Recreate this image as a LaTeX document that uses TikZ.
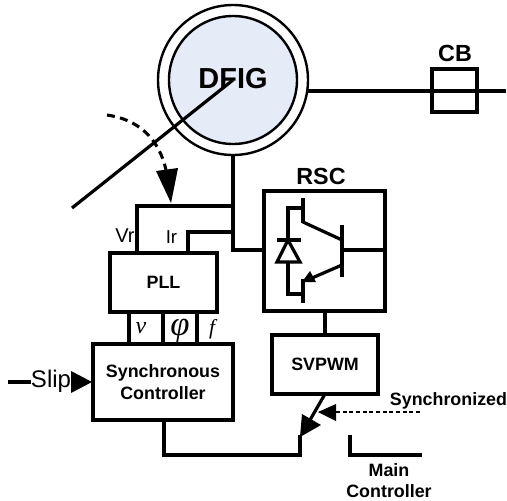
\documentclass[tikz,border=0pt]{standalone}
\usepackage{fontspec}
\setmainfont{Liberation Sans}
\newfontfamily\serifit[Script=Greek]{Liberation Serif}
\usetikzlibrary{arrows.meta}
\tikzset{
  x=0.75pt,y=-0.75pt,
  wire/.style={line width=2.4pt,line join=miter},
  block/.style={draw,line width=2.4pt,rectangle,inner sep=0pt,outer sep=0pt,align=center,font=\fontsize{13.4}{16.5}\selectfont\bfseries},
  ring/.style={circle,draw,line width=1.8pt,inner sep=0pt,outer sep=0pt},
  lbl/.style={inner sep=0pt,outer sep=0pt,align=center},
  boldlbl/.style={lbl,font=\fontsize{13.4}{16}\selectfont\bfseries},
}
\begin{document}
\begin{tikzpicture}
\useasboundingbox (0,0) rectangle (507,500);
% Generator
\node[ring,minimum size=150*0.75pt] (outer) at (233,80) {};
\node[ring,fill={rgb,255:red,230;green,236;blue,247},minimum size=128*0.75pt] (inner) at (233,80) {};
\node[lbl,font=\fontsize{21.7}{24}\selectfont\bfseries] (dfig) at (233,79) {DFIG};
\coordinate (hub) at (233,80);
\coordinate (shaftend) at (72,208);
\draw[wire] (hub) -- (shaftend);
% Breaker
\node[block,minimum width=45*0.75pt,minimum height=43*0.75pt] (cb) at (454.5,90.5) {};
\node[lbl,font=\fontsize{17.5}{20}\selectfont\bfseries] (cbt) at (455,53) {CB};
\coordinate (lineend) at (506,91);
\draw[wire] (308,91) -- (lineend);
% Dashed rotation arrow
\coordinate (rotstart) at (107,115);
\coordinate (rottip) at (171,203);
\draw[line width=2.3pt,dash pattern=on 6pt off 4pt] (rotstart) .. controls (135,119) and (158,135) .. (166,170);
\draw[draw=none,fill=black] (rottip) -- (156,171) -- (178,168) -- cycle;
% Blocks
\node[block,minimum width=121*0.75pt,minimum height=120*0.75pt] (rsc) at (324.5,251) {};
\node[lbl,font=\fontsize{17.5}{20}\selectfont\bfseries] (rsct) at (321,176) {RSC};
\node[block,minimum width=106*0.75pt,minimum height=59*0.75pt] (svpwm) at (325,364.5) {SVPWM};
\node[block,minimum width=107*0.75pt,minimum height=59*0.75pt] (pll) at (163.5,282.5) {PLL};
\node[block,minimum width=140*0.75pt,minimum height=76*0.75pt] (sync) at (163,382) {Synchronous\\Controller};
% Feeders
\coordinate (bus) at (233,250);
\coordinate (vrtop) at (137,206);
\coordinate (irtop) at (188,232);
\draw[wire] (233,155) -- (bus) -- (rsc.west |- bus);
\draw[wire] (233,206) -- (vrtop) -- (pll.north -| vrtop);
\draw[wire] (233,232) -- (irtop) -- (pll.north -| irtop);
\node[lbl,font=\fontsize{15}{17}\selectfont] (vr) at (125,236) {Vr};
\node[lbl,font=\fontsize{14}{16}\selectfont] (ir) at (171.5,237) {Ir};
% PLL to controller
\foreach \x in {129,163,197} \draw[wire] (\x,312) -- (\x,344);
\node[lbl,font=\fontsize{18}{20}\selectfont\serifit\itshape] (nu) at (141,328) {ν};
\node[lbl,font=\fontsize{26}{28}\selectfont\serifit\itshape] (phi) at (180,331) {φ};
\node[lbl,font=\fontsize{16}{18}\selectfont\serifit\itshape] (ff) at (212,329) {f};
% Slip
\coordinate (slipstart) at (8,382);
\draw[wire] (slipstart) -- (31,382);
\node[lbl,font=\fontsize{18}{20}\selectfont,anchor=west] (slip) at (31,381) {Slip};
\draw[draw=none,fill=black] (92,382) -- (71,371) -- (71,393) -- cycle;
% Switch
\coordinate (swtip) at (300,437);
\coordinate (swcontact) at (350,437);
\coordinate (swbottom) at (300,455);
\coordinate (mainend) at (420,455);
\draw[wire,line cap=rect] (164,420) -- (164,455) -- (swbottom) -- (swtip);
\draw[wire,line cap=rect] (swcontact) -- (350,455) -- (mainend);
\draw[wire] (325,394) -- (310,420);
\draw[draw=none,fill=black] (swtip) -- (302,414) -- (321,425) -- cycle;
% Synchronized signal
\coordinate (synstart) at (420,412);
\draw[line width=1.5pt,densely dashed] (synstart) -- (332,412);
\draw[draw=none,fill=black] (318,412) -- (336,404) -- (336,421) -- cycle;
\node[boldlbl] (syn) at (448.5,401) {Synchronized};
\node[boldlbl,font=\fontsize{13.4}{15.8}\selectfont\bfseries] (mc) at (389,480.5) {Main\\Controller};
% IGBT and diode
\draw[wire] (303,198) -- (303,223);
\draw[wire] (303,279) -- (303,303);
\draw[wire] (342,225) -- (342,277);
\draw[wire] (303,222) -- (342,240);
\draw[wire] (342,265) -- (312,278);
\draw[draw=none,fill=black] (302,282) -- (310,271) -- (316,282) -- cycle;
\draw[wire] (342,250) -- (rsc.east |- 342,250);
\draw[wire] (303,208) -- (288,208) -- (288,240);
\draw[wire] (288,262) -- (288,294) -- (303,294);
\draw[wire] (277,240) -- (301,240);
\draw[wire] (288,240) -- (277,262) -- (300,262) -- cycle;
% Link to modulator
\draw[wire] (325,311) -- (325,335);
\end{tikzpicture}
\end{document}
